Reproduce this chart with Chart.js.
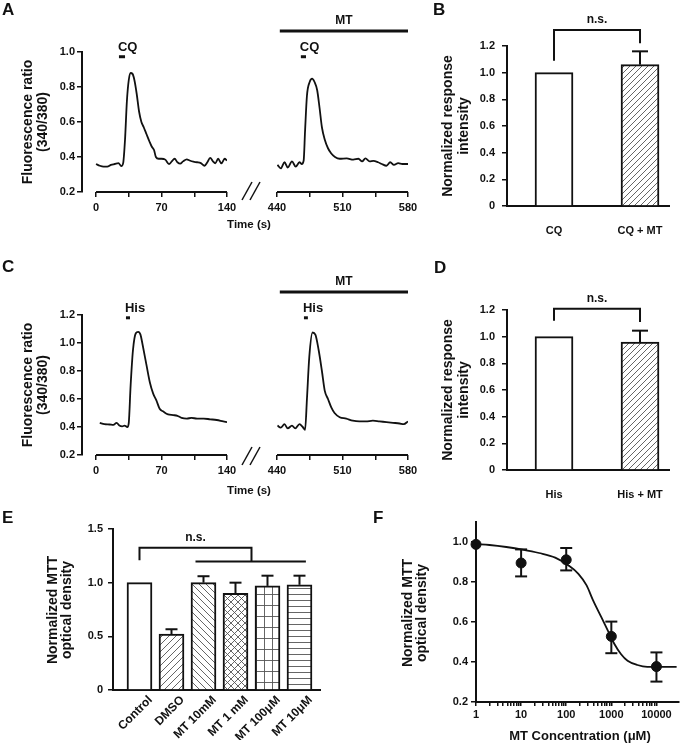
<!DOCTYPE html>
<html>
<head>
<meta charset="utf-8">
<script src="https://cdn.jsdelivr.net/npm/chart.js@4.4.1/dist/chart.umd.min.js"></script>
<style>
html, body { margin: 0; padding: 0; background: #fff; }
#fig { position: relative; width: 685px; height: 743px; overflow: hidden; }
#fig canvas { position: absolute; left: 0; top: 0; }
</style>
</head>
<body>
<div id="fig">
  <canvas id="cA1" width="685" height="743"></canvas>
  <canvas id="cA2" width="685" height="743"></canvas>
  <canvas id="cB" width="685" height="743"></canvas>
  <canvas id="cC1" width="685" height="743"></canvas>
  <canvas id="cC2" width="685" height="743"></canvas>
  <canvas id="cD" width="685" height="743"></canvas>
  <canvas id="cE" width="685" height="743"></canvas>
  <canvas id="cF" width="685" height="743"></canvas>
</div>
<script>
// ---- data ----
// A: CQ calcium traces (time in s, 340/380 ratio)
const cqTimeCtrl = [0,4,8,12,16,20,24,27,29,31,33,35,37,39,41,43.5,46,48.5,51,54,57,59.5,62,64,67,70,74,78,81,84,87,90,93,97,100,104,108,112,116,119,122,125,127.5,130.5,134,137.5,140];
const cqRatioCtrl = [0.36,0.35,0.345,0.345,0.355,0.36,0.365,0.348,0.365,0.5,0.72,0.84,0.88,0.875,0.84,0.76,0.66,0.6,0.57,0.53,0.49,0.46,0.44,0.40,0.39,0.39,0.385,0.36,0.375,0.39,0.37,0.362,0.375,0.387,0.38,0.373,0.37,0.365,0.35,0.37,0.395,0.375,0.364,0.39,0.364,0.39,0.38];
const cqTimeMT = [440.5,444,448,451.5,456,460,464,466.5,468.5,470,472,475,477.5,480,483,485.5,488,491,494.5,498,502,507,514.5,521.5,527,531,534.5,539,543,548,552,557,561,565,569.5,574,580];
const cqRatioMT = [0.355,0.335,0.37,0.34,0.375,0.345,0.37,0.36,0.38,0.55,0.75,0.83,0.848,0.83,0.78,0.68,0.57,0.50,0.45,0.42,0.40,0.39,0.392,0.385,0.39,0.375,0.392,0.375,0.378,0.37,0.36,0.35,0.37,0.355,0.365,0.36,0.36];
const cqOnset = [[24.5, 31], [465.5, 471]];

// C: histamine traces
const hisTimeCtrl = [4,9,14.5,18.5,22,25,28,30.5,33.5,35,37,39.5,42.5,45,47.5,50,54,57.5,61,64.5,68,72,77,82.5,87,91.5,97,102,108,115,122,129,136,140];
const hisRatioCtrl = [0.43,0.42,0.418,0.415,0.43,0.41,0.405,0.41,0.40,0.43,0.70,0.95,1.07,1.08,1.06,0.98,0.84,0.72,0.64,0.59,0.53,0.51,0.49,0.485,0.48,0.465,0.46,0.465,0.46,0.46,0.455,0.45,0.44,0.435];
const hisTimeMT = [440.5,444,448,451.5,456,459.5,464,467.5,470,472,474.5,478,481,484.5,488,491,494.5,498,501.5,507,514,521,528,535,542.5,549.5,557,564,571,575.5,580];
const hisRatioMT = [0.41,0.395,0.42,0.39,0.41,0.39,0.42,0.40,0.38,0.6,0.9,1.075,1.06,0.95,0.80,0.66,0.60,0.54,0.50,0.47,0.46,0.445,0.44,0.44,0.445,0.44,0.435,0.43,0.425,0.42,0.44];
const hisOnset = [[32, 36.3], [468.8, 473]];
const mtSpan = [443, 580];

// trace axes
const ctrlTimeTicks = [0, 35, 70, 105, 140];
const mtTimeTicks = [440, 475, 510, 545, 580];
const timeLabels = [0, 70, 140, 440, 510, 580];
const ratioTicksA = [0.2, 0.4, 0.6, 0.8, 1.0];
const ratioTicksC = [0.2, 0.4, 0.6, 0.8, 1.0, 1.2];

// B / D: normalized response
const respLabelsB = ['CQ', 'CQ + MT'];
const respMeanB = [1.0, 1.06];
const respErrB = [0, 0.10];
const respLabelsD = ['His', 'His + MT'];
const respMeanD = [1.0, 0.96];
const respErrD = [0, 0.085];
const respTicks = [0, 0.2, 0.4, 0.6, 0.8, 1.0, 1.2];

// E: MTT
const mttLabels = ['Control', 'DMSO', 'MT 10mM', 'MT 1 mM', 'MT 100μM', 'MT 10μM'];
const mttMean = [1.0, 0.52, 1.0, 0.90, 0.97, 0.98];
const mttErr = [0, 0.046, 0.06, 0.10, 0.095, 0.085];
const mttTicks = [0, 0.5, 1.0, 1.5];

// F: dose response
const concs = [1, 10, 100, 1000, 10000];
const odMean = [0.988, 0.895, 0.911, 0.528, 0.377];
const odLow = [null, 0.828, 0.858, 0.444, 0.302];
const odHigh = [null, 0.963, 0.970, 0.602, 0.448];
const fitConc = [1, 2, 4.7, 10.8, 25, 57, 112, 186, 283, 394, 600, 837, 1170, 1630, 2290, 3780, 6260, 10300, 28000];
const fitOD = [0.99, 0.985, 0.975, 0.962, 0.945, 0.922, 0.883, 0.841, 0.783, 0.708, 0.624, 0.557, 0.49, 0.44, 0.406, 0.385, 0.376, 0.376, 0.376];
const concTickLabels = [1, 10, 100, 1000, 10000];
const odTicks = [0.2, 0.4, 0.6, 0.8, 1.0];

// ---- common ----
const FONT = "'Liberation Sans', Arial, Helvetica, sans-serif";
const INK = '#111';
const W = 685, H = 743;
Chart.defaults.font.family = FONT;
Chart.defaults.font.size = 11;
Chart.defaults.font.weight = 'bold';
Chart.defaults.color = INK;
Chart.defaults.plugins.legend.display = false;
Chart.defaults.plugins.tooltip.enabled = false;

// chart area placed in page coordinates (all canvases cover the page)
function frame(l, t, r, b, yW, xH) {
    return { padding: { left: l - yW, top: t, right: W - r, bottom: H - b - xH } };
}

function seg(ctx, pts, w) {
    ctx.save();
    ctx.strokeStyle = INK;
    ctx.lineWidth = w;
    ctx.beginPath();
    pts.forEach((p, i) => i ? ctx.lineTo(p[0], p[1]) : ctx.moveTo(p[0], p[1]));
    ctx.stroke();
    ctx.restore();
}

function txt(ctx, s, x, y, size, opt) {
    opt = opt || {};
    ctx.save();
    ctx.font = (opt.weight || 'bold') + ' ' + size + 'px ' + FONT;
    ctx.fillStyle = INK;
    ctx.textAlign = opt.align || 'center';
    ctx.textBaseline = opt.base || 'middle';
    ctx.translate(x, y);
    if (opt.rot) ctx.rotate(opt.rot);
    ctx.fillText(s, 0, 0);
    ctx.restore();
}

function yTitle(ctx, lines, xs, y) {
    lines.forEach((s, i) => txt(ctx, s, xs[i], y, 14, { rot: -Math.PI / 2 }));
}

function letter(ctx, s, x, y) {
    txt(ctx, s, x, y, 17, { align: 'left', base: 'alphabetic' });
}

function hatch(canvas, kind, w, h) {
    const c = document.createElement('canvas');
    c.width = w; c.height = h;
    const g = c.getContext('2d');
    g.fillStyle = '#fff';
    g.fillRect(0, 0, w, h);
    g.strokeStyle = '#555';
    g.lineWidth = 0.9;
    g.beginPath();
    if (kind === 'fwd' || kind === 'cross') {
        g.moveTo(-1, h + 1); g.lineTo(w + 1, -1);
        g.moveTo(-1, 1); g.lineTo(1, -1);
        g.moveTo(w - 1, h + 1); g.lineTo(w + 1, h - 1);
    }
    if (kind === 'back' || kind === 'cross') {
        g.moveTo(-1, -1); g.lineTo(w + 1, h + 1);
        g.moveTo(w - 1, -1); g.lineTo(w + 1, 1);
        g.moveTo(-1, h - 1); g.lineTo(1, h + 1);
    }
    if (kind === 'grid') {
        g.moveTo(0.5, 0); g.lineTo(0.5, h);
        g.moveTo(0, 0.5); g.lineTo(w, 0.5);
    }
    if (kind === 'horiz') {
        g.moveTo(0, 0.5); g.lineTo(w, 0.5);
    }
    g.stroke();
    return canvas.getContext('2d').createPattern(c, 'repeat');
}

function yAxis(min, max, ticks, w, pad, show) {
    return {
        min: min, max: max, display: show !== false,
        afterFit: s => { s.width = w; },
        afterBuildTicks: s => { s.ticks = ticks.map(v => ({ value: v })); },
        border: { color: INK, width: 2 },
        grid: { drawOnChartArea: false, tickLength: 5, color: INK, lineWidth: 1.5 },
        ticks: { padding: pad, callback: v => v === 0 ? '0' : v.toFixed(1) }
    };
}

function timeAxis(min, max, ticks) {
    return {
        type: 'linear', min: min, max: max, offset: false,
        afterFit: s => { s.height = 30; },
        afterBuildTicks: s => { s.ticks = ticks.map(v => ({ value: v })); },
        border: { display: false },
        grid: { drawOnChartArea: false, tickLength: 5, color: INK, lineWidth: 1.5 },
        ticks: { padding: 4, maxRotation: 0, autoSkip: false, callback: v => timeLabels.includes(v) ? String(v) : '' }
    };
}

function stim(c, on, level, label) {
    const x = c.scales.x, y = c.scales.y;
    const x0 = x.getPixelForValue(on[0]), x1 = x.getPixelForValue(on[1]), yy = y.getPixelForValue(level);
    seg(c.ctx, [[x0, yy], [x1, yy]], 3);
    txt(c.ctx, label, x0 - 1, yy - 9, 13, { align: 'left' });
}

function mtBar(c, yy) {
    const x = c.scales.x;
    const x0 = x.getPixelForValue(mtSpan[0]), x1 = x.getPixelForValue(mtSpan[1]);
    seg(c.ctx, [[x0, yy], [x1, yy]], 3);
    txt(c.ctx, 'MT', (x0 + x1) / 2, yy - 10, 12);
}

function traceChart(id, t, v, xMin, xMax, xTicks, yMax, yTicks, box, showY, deco) {
    return new Chart(document.getElementById(id), {
        type: 'line',
        data: {
            datasets: [{
                data: t.map((x, i) => ({ x: x, y: v[i] })),
                borderColor: INK,
                borderWidth: 1.8,
                pointRadius: 0,
                cubicInterpolationMode: 'monotone',
                fill: false
            }]
        },
        options: {
            responsive: false, animation: false, devicePixelRatio: 1,
            layout: box,
            scales: {
                x: timeAxis(xMin, xMax, xTicks),
                y: yAxis(0.2, yMax, yTicks, showY ? 60 : 0, 2, showY)
            }
        },
        plugins: [{
            id: 'deco' + id,
            afterDraw: c => {
                const x = c.scales.x;
                seg(c.ctx, [[x.getPixelForValue(xTicks[0]), c.chartArea.bottom],
                            [x.getPixelForValue(xTicks[xTicks.length - 1]), c.chartArea.bottom]], 2);
                deco(c);
            }
        }]
    });
}

function errUp(c, means, errs, half) {
    const x = c.scales.x, y = c.scales.y;
    means.forEach((m, i) => {
        if (!errs[i]) return;
        const px = x.getPixelForValue(i + 1), top = y.getPixelForValue(m + errs[i]);
        seg(c.ctx, [[px, y.getPixelForValue(m)], [px, top]], 2);
        seg(c.ctx, [[px - half, top], [px + half, top]], 2);
    });
}

function bracket(c, xL, xR, yTop, yL, yR) {
    const x = c.scales.x, y = c.scales.y;
    seg(c.ctx, [[x.getPixelForValue(xL), y.getPixelForValue(yL)],
                [x.getPixelForValue(xL), y.getPixelForValue(yTop)],
                [x.getPixelForValue(xR), y.getPixelForValue(yTop)],
                [x.getPixelForValue(xR), y.getPixelForValue(yR)]], 2);
    txt(c.ctx, 'n.s.', (x.getPixelForValue(xL) + x.getPixelForValue(xR)) / 2, y.getPixelForValue(yTop) - 10, 12);
}

function slashes(ctx, yb) {
    seg(ctx, [[242, yb], [252, yb - 18]], 1.5);
    seg(ctx, [[250, yb], [260, yb - 18]], 1.5);
}

// ---- A ----
traceChart('cA1', cqTimeCtrl, cqRatioCtrl, -15, 140, ctrlTimeTicks, 1.0, ratioTicksA,
    frame(82, 52, 227, 192, 60, 30), true, c => {
        const ctx = c.ctx;
        stim(c, cqOnset[0], 0.973, 'CQ');
        yTitle(ctx, ['Fluorescence ratio', '(340/380)'], [28, 43], 122);
        letter(ctx, 'A', 2, 15);
        slashes(ctx, 200);
        txt(ctx, 'Time (s)', 249, 225, 11.5);
    });
traceChart('cA2', cqTimeMT, cqRatioMT, 440, 580, mtTimeTicks, 1.0, ratioTicksA,
    frame(277, 52, 408, 192, 0, 30), false, c => {
        stim(c, cqOnset[1], 0.973, 'CQ');
        mtBar(c, 31);
    });

// ---- C ----
traceChart('cC1', hisTimeCtrl, hisRatioCtrl, -15, 140, ctrlTimeTicks, 1.2, ratioTicksC,
    frame(82, 315, 227, 455, 60, 30), true, c => {
        const ctx = c.ctx;
        stim(c, hisOnset[0], 1.18, 'His');
        yTitle(ctx, ['Fluorescence ratio', '(340/380)'], [28, 43], 385);
        letter(ctx, 'C', 2, 272);
        slashes(ctx, 465);
        txt(ctx, 'Time (s)', 249, 491, 11.5);
    });
traceChart('cC2', hisTimeMT, hisRatioMT, 440, 580, mtTimeTicks, 1.2, ratioTicksC,
    frame(277, 315, 408, 455, 0, 30), false, c => {
        stim(c, hisOnset[1], 1.18, 'His');
        mtBar(c, 292);
    });

// ---- B / D ----
function respChart(id, labels, means, errs, box, bracketY, title, letterPos) {
    const cv = document.getElementById(id);
    return new Chart(cv, {
        type: 'bar',
        data: {
            datasets: [{
                data: means.map((m, i) => ({ x: i + 1, y: m })),
                backgroundColor: ['#fff', hatch(cv, 'fwd', 6, 6)],
                borderColor: INK,
                borderWidth: 2,
                barThickness: 38
            }]
        },
        options: {
            responsive: false, animation: false, devicePixelRatio: 1,
            layout: box,
            scales: {
                x: {
                    type: 'linear', min: 0.4535, max: 2.337, offset: false,
                    afterFit: s => { s.height = 30; },
                    afterBuildTicks: s => { s.ticks = labels.map((_, i) => ({ value: i + 1 })); },
                    border: { color: INK, width: 2 },
                    grid: { display: false },
                    ticks: { padding: 10, maxRotation: 0, autoSkip: false, callback: v => labels[v - 1] }
                },
                y: yAxis(0, 1.2, respTicks, 50, 7)
            }
        },
        plugins: [{
            id: 'deco' + id,
            afterDraw: c => {
                errUp(c, means, errs, 8);
                bracket(c, 1, 2, bracketY[0], bracketY[1], bracketY[2]);
                yTitle(c.ctx, ['Normalized response', 'intensity'], [448, 464], title);
                letter(c.ctx, letterPos[0], letterPos[1], letterPos[2]);
            }
        }]
    });
}
respChart('cB', respLabelsB, respMeanB, respErrB, frame(507, 46, 669, 206, 50, 30), [1.32, 1.09, 1.22], 126, ['B', 433, 15]);
respChart('cD', respLabelsD, respMeanD, respErrD, frame(507, 310, 669, 470, 50, 30), [1.21, 1.12, 1.11], 390, ['D', 434, 273]);

// ---- E ----
(function () {
    const cv = document.getElementById('cE');
    const fills = ['#fff', hatch(cv, 'fwd', 7, 7), hatch(cv, 'back', 7, 7), hatch(cv, 'cross', 7, 7), hatch(cv, 'grid', 8, 11), hatch(cv, 'horiz', 6, 6)];
    new Chart(cv, {
        type: 'bar',
        data: {
            datasets: [{
                data: mttMean.map((m, i) => ({ x: i + 1, y: m })),
                backgroundColor: fills,
                borderColor: INK,
                borderWidth: 2,
                barThickness: 25
            }]
        },
        options: {
            responsive: false, animation: false, devicePixelRatio: 1,
            layout: frame(113, 529, 320, 690, 40, 50),
            scales: {
                x: {
                    type: 'linear', min: 0.172, max: 6.641, offset: false,
                    afterFit: s => { s.height = 50; },
                    afterBuildTicks: s => { s.ticks = mttLabels.map((_, i) => ({ value: i + 1 })); },
                    border: { color: INK, width: 2 },
                    grid: { display: false },
                    ticks: { padding: -5, minRotation: 45, maxRotation: 45, autoSkip: false, labelOffset: 11,
                             font: { size: 12 }, callback: v => mttLabels[v - 1] }
                },
                y: yAxis(0, 1.5, mttTicks, 40, 5)
            }
        },
        plugins: [{
            id: 'decoE',
            afterDraw: c => {
                const x = c.scales.x, y = c.scales.y;
                errUp(c, mttMean, mttErr, 6);
                bracket(c, 1, 4.5, 1.326, 1.21, 1.198);
                seg(c.ctx, [[x.getPixelForValue(2.75), y.getPixelForValue(1.198)], [x.getPixelForValue(6.2), y.getPixelForValue(1.198)]], 2);
                yTitle(c.ctx, ['Normalized MTT', 'optical density'], [53, 67], 610);
                letter(c.ctx, 'E', 2, 523);
            }
        }]
    });
})();

// ---- F ----
(function () {
    const logTicks = [];
    concTickLabels.forEach(d => { for (let k = 1; k < 10; k++) if (d * k <= 10000) logTicks.push(d * k); });
    new Chart(document.getElementById('cF'), {
        type: 'line',
        data: {
            datasets: [{
                data: fitConc.map((x, i) => ({ x: x, y: fitOD[i] })),
                borderColor: INK, borderWidth: 1.8, pointRadius: 0,
                cubicInterpolationMode: 'monotone', clip: false
            }, {
                data: concs.map((x, i) => ({ x: x, y: odMean[i] })),
                showLine: false, pointRadius: 5,
                pointBackgroundColor: INK, pointBorderColor: INK, clip: false
            }]
        },
        options: {
            responsive: false, animation: false, devicePixelRatio: 1,
            layout: frame(476, 522, 683, 702, 40, 30),
            scales: {
                x: {
                    type: 'logarithmic', min: 1, max: 31623,
                    afterFit: s => { s.height = 30; },
                    afterBuildTicks: s => { s.ticks = logTicks.map(v => ({ value: v })); },
                    border: { color: INK, width: 2 },
                    grid: { drawOnChartArea: false, tickLength: 4, color: INK, lineWidth: 1.5 },
                    ticks: { padding: 2, maxRotation: 0, autoSkip: false, callback: v => concTickLabels.includes(v) ? String(v) : '' }
                },
                y: yAxis(0.2, 1.1, odTicks, 40, 3)
            }
        },
        plugins: [{
            id: 'decoF',
            afterDraw: c => {
                const x = c.scales.x, y = c.scales.y, ctx = c.ctx;
                concs.forEach((cx, i) => {
                    if (odLow[i] === null) return;
                    const px = x.getPixelForValue(cx), lo = y.getPixelForValue(odLow[i]), hi = y.getPixelForValue(odHigh[i]);
                    seg(ctx, [[px, lo], [px, hi]], 2);
                    seg(ctx, [[px - 6, lo], [px + 6, lo]], 2);
                    seg(ctx, [[px - 6, hi], [px + 6, hi]], 2);
                });
                yTitle(ctx, ['Normalized MTT', 'optical density'], [408, 422], 613);
                txt(ctx, 'MT Concentration (μM)', 580, 736, 13);
                letter(ctx, 'F', 373, 523);
            }
        }]
    });
})();
</script>
</body>
</html>
